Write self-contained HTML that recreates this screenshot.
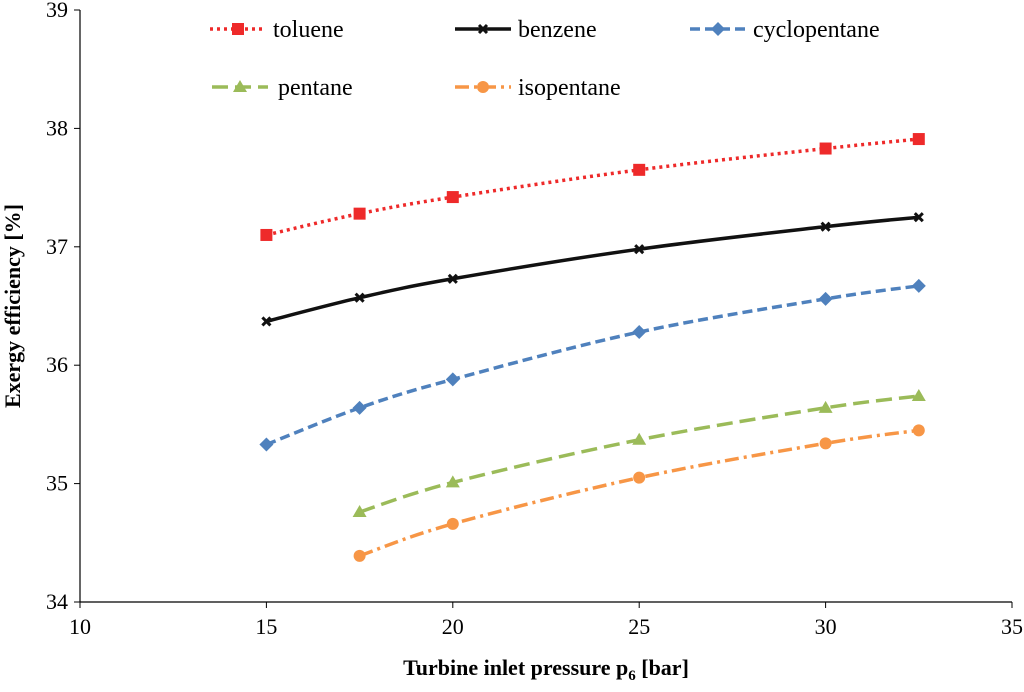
<!DOCTYPE html>
<html><head><meta charset="utf-8"><style>
body{margin:0;background:#fff;width:1024px;height:687px;overflow:hidden}
svg text{font-family:"Liberation Serif","Times New Roman","DejaVu Serif",serif}
</style></head><body>
<svg id="chart" width="1024" height="687" xmlns="http://www.w3.org/2000/svg" font-family="Liberation Serif, Times New Roman, serif"></svg>
<script>
const xValues=[15,17.5,20,25,30,32.5];
const toluene=[37.10,37.28,37.42,37.65,37.83,37.91];
const benzene=[36.37,36.57,36.73,36.98,37.17,37.25];
const cyclopentane=[35.33,35.64,35.88,36.28,36.56,36.67];
const pentaneX=[17.5,20,25,30,32.5];
const pentane=[34.76,35.01,35.37,35.64,35.74];
const isopentane=[34.39,34.66,35.05,35.34,35.45];
const xTicks=[10,15,20,25,30,35];
const yTicks=[34,35,36,37,38,39];

const svg=document.getElementById('chart');
const NS='http://www.w3.org/2000/svg';
const X0=80,X1=1012,Y0=602,Y1=10;
const FF='Liberation Serif, Times New Roman, serif';
function sx(v){return X0+(v-10)/(35-10)*(X1-X0);}
function sy(v){return Y0-(v-34)/(39-34)*(Y0-Y1);}
function mk(tag,attrs,parent){const e=document.createElementNS(NS,tag);for(const k in attrs)e.setAttribute(k,attrs[k]);if(tag==='text')e.setAttribute('font-family',FF);(parent||svg).appendChild(e);return e;}

let ax=mk('line',{x1:X0,y1:Y1,x2:X0,y2:Y0,stroke:'#000','stroke-width':1.2});


ax=mk('line',{x1:X0,y1:Y0,x2:X1,y2:Y0,stroke:'#000','stroke-width':1.2});


yTicks.forEach(t=>{
  mk('line',{x1:X0-6,y1:sy(t),x2:X0,y2:sy(t),stroke:'#000','stroke-width':1});
  const tx=mk('text',{x:X0-12,y:sy(t)+7,'text-anchor':'end','font-size':22});
  tx.textContent=t;
  
  
});
xTicks.forEach(t=>{
  mk('line',{x1:sx(t),y1:Y0,x2:sx(t),y2:Y0+6,stroke:'#000','stroke-width':1});
  const tx=mk('text',{x:sx(t),y:Y0+32,'text-anchor':'middle','font-size':22});
  tx.textContent=t;
  
  
});
let yt=mk('text',{x:0,y:0,'text-anchor':'middle','font-size':22,'font-weight':'bold',transform:'translate(20,306) rotate(-90)'});
yt.textContent='Exergy efficiency [%]';


let xt=mk('text',{x:546,y:675,'text-anchor':'middle','font-size':22,'font-weight':'bold'});
xt.innerHTML='Turbine inlet pressure p<tspan font-size="15" dy="5">6</tspan><tspan dy="-5"> [bar]</tspan>';



function smoothPath(pts){
  let d='M'+pts[0][0]+','+pts[0][1];
  for(let i=0;i<pts.length-1;i++){
    const p0=pts[i-1]||pts[i],p1=pts[i],p2=pts[i+1],p3=pts[i+2]||p2;
    const t=0.17;
    const c1=[p1[0]+(p2[0]-p0[0])*t,p1[1]+(p2[1]-p0[1])*t];
    const c2=[p2[0]-(p3[0]-p1[0])*t,p2[1]-(p3[1]-p1[1])*t];
    d+=' C'+c1+' '+c2+' '+p2;
  }
  return d;
}
function marker(g,type,x,y,color){
  if(type==='square')return mk('rect',{x:x-6,y:y-6,width:12,height:12,fill:color},g);
  if(type==='diamond')return mk('path',{d:`M${x},${y-7}L${x+7},${y}L${x},${y+7}L${x-7},${y}Z`,fill:color},g);
  if(type==='triangle')return mk('path',{d:`M${x},${y-7}L${x+7},${y+5}L${x-7},${y+5}Z`,fill:color},g);
  if(type==='circle')return mk('circle',{cx:x,cy:y,r:6,fill:color},g);
  if(type==='x')return mk('path',{d:`M${x-4},${y-4}L${x+4},${y+4}M${x+4},${y-4}L${x-4},${y+4}`,stroke:color,'stroke-width':3},g);
}
const series=[
 {name:'toluene',xs:xValues,ys:toluene,color:'#ee2a2a',dash:'3,4',m:'square',lx:210,ly:29},
 {name:'benzene',xs:xValues,ys:benzene,color:'#111',dash:'',m:'x',lx:455,ly:29},
 {name:'cyclopentane',xs:xValues,ys:cyclopentane,color:'#4f81bd',dash:'10,5',m:'diamond',lx:690,ly:29},
 {name:'pentane',xs:pentaneX,ys:pentane,color:'#9bbb59',dash:'16,7',m:'triangle',lx:212,ly:87},
 {name:'isopentane',xs:pentaneX,ys:isopentane,color:'#f79646',dash:'14,5,3,5',m:'circle',lx:455,ly:87},
];
series.forEach(s=>{
  const g=mk('g',{});
  
  
  const pts=s.xs.map((x,i)=>[sx(x),sy(s.ys[i])]);
  const p=mk('path',{d:smoothPath(pts),fill:'none',stroke:s.color,'stroke-width':3.5,'stroke-dasharray':s.dash},g);
  
  
  pts.forEach(pt=>{
    const m=marker(g,s.m,pt[0],pt[1],s.color);
    
    
  });
  const lg=mk('g',{});
  
  
  mk('line',{x1:s.lx,y1:s.ly,x2:s.lx+56,y2:s.ly,stroke:s.color,'stroke-width':3.5,'stroke-dasharray':s.dash},lg);
  marker(lg,s.m,s.lx+28,s.ly,s.color);
  const tx=mk('text',{x:s.lx+(s.name==='pentane'?66:63),y:s.ly+8,'font-size':24},lg);
  tx.textContent=s.name;
});
</script>
</body></html>
